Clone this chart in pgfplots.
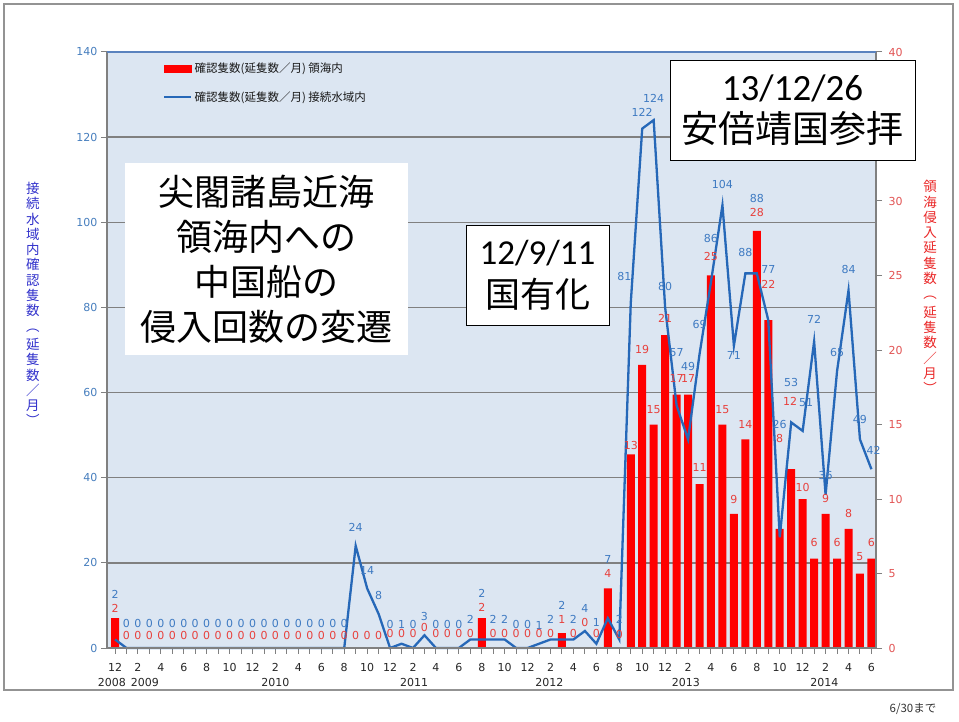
\documentclass[border=0pt]{standalone}
\usepackage{fontspec}
\setmainfont{Noto Sans CJK JP}
\newfontfamily\numfont{DejaVu Sans}
\newfontfamily\calfont{Carlito}
\usepackage{pgfplots}
\usepackage{pgfplotstable}
\pgfplotsset{compat=1.18}
\definecolor{bgblue}{RGB}{220,230,242}
\definecolor{lineblue}{RGB}{38,104,184}
\definecolor{lblblue}{RGB}{62,122,194}
\definecolor{lblred}{RGB}{232,64,60}
\definecolor{tickblue}{RGB}{70,126,190}
\definecolor{tickred}{RGB}{226,84,84}
\definecolor{gridgray}{RGB}{128,128,128}
\definecolor{topblue}{RGB}{90,130,190}
\definecolor{axlabblue}{RGB}{51,51,204}
\definecolor{axlabred}{RGB}{234,40,40}

\pgfplotstableread{
i red blue
0 2 2
1 0 0
2 0 0
3 0 0
4 0 0
5 0 0
6 0 0
7 0 0
8 0 0
9 0 0
10 0 0
11 0 0
12 0 0
13 0 0
14 0 0
15 0 0
16 0 0
17 0 0
18 0 0
19 0 0
20 0 0
21 0 24
22 0 14
23 0 8
24 0 0
25 0 1
26 0 0
27 0 3
28 0 0
29 0 0
30 0 0
31 0 2
32 2 2
33 0 2
34 0 2
35 0 0
36 0 0
37 0 1
38 0 2
39 1 2
40 0 2
41 0 4
42 0 1
43 4 7
44 0 2
45 13 81
46 19 122
47 15 124
48 21 80
49 17 57
50 17 49
51 11 69
52 25 86
53 15 104
54 9 71
55 14 88
56 28 88
57 22 77
58 8 26
59 12 53
60 10 51
61 6 72
62 9 36
63 6 65
64 8 84
65 5 49
66 6 42
}\maindata

\pgfplotstableread{
x y v
0 12.7 2
1 5.8 0
2 5.8 0
3 5.8 0
4 5.8 0
5 5.8 0
6 5.8 0
7 5.8 0
8 5.8 0
9 5.8 0
10 5.8 0
11 5.8 0
12 5.8 0
13 5.8 0
14 5.8 0
15 5.8 0
16 5.8 0
17 5.8 0
18 5.8 0
19 5.8 0
20 5.8 0
21 28.4 24
22 18.1 14
23 12.4 8
24 5.6 0
25 5.6 1
26 5.6 0
27 7.3 3
28 5.6 0
29 5.6 0
30 5.6 0
31 6.6 2
32 12.9 2
33 6.6 2
34 6.6 2
35 5.6 0
36 5.6 0
37 5.4 1
38 6.6 2
39 9.9 2
40 6.6 2
41 9.2 4
42 5.9 1
43 20.7 7
44 6.6 2
44.45 87.2 81
46 125.9 122
47 129.0 124
48 84.8 80
49 69.3 57
50 66.2 49
51 76.1 69
52 96.1 86
53 108.8 104
54 68.8 71
55 92.8 88
56 105.7 88
57 88.8 77
58 52.6 26
59 62.3 53
60.3 57.6 51
61 77.1 72
62 40.6 36
63 69.5 65
64 88.8 84
65 53.6 49
66.2 46.5 42
}\bluelab

\pgfplotstableread{
x y v
0 9.4 2
1 3.0 0
2 3.0 0
3 3.0 0
4 3.0 0
5 3.0 0
6 3.0 0
7 3.0 0
8 3.0 0
9 3.0 0
10 3.0 0
11 3.0 0
12 3.0 0
13 3.0 0
14 3.0 0
15 3.0 0
16 3.0 0
17 3.0 0
18 3.0 0
19 3.0 0
20 3.0 0
21 3.0 0
22 3.0 0
23 3.0 0
24 3.3 0
25 3.3 0
26 3.3 0
27 4.7 0
28 3.3 0
29 3.3 0
30 3.3 0
31 3.3 0
32 9.6 2
33 3.3 0
34 3.3 0
35 3.3 0
36 3.3 0
37 3.3 0
38 3.3 0
39 6.6 1
40 3.3 0
41 5.9 0
42 3.3 0
43 17.6 4
44 3.1 0
45 47.5 13
46 70.2 19
47 56.1 15
48 77.5 21
49 63.2 17
50 63.2 17
51 42.3 11
52 91.9 25
53 56.1 15
54 35.0 9
55 52.6 14
56 102.2 28
57 85.5 22
58 49.3 8
58.9 58.0 12
60 37.8 10
61 24.7 6
62 35.2 9
63 24.7 6
64 31.7 8
65 21.4 5
66 24.7 6
}\redlab

\tikzset{numlab/.style={font=\numfont\fontsize{11}{12}\selectfont}}
\pgfplotsset{
  base/.style={scale only axis, width=769pt, height=596pt,
    xmin=-0.7, xmax=66.4, at={(107pt,73pt)}, anchor=south west},
}

\begin{document}
\begin{tikzpicture}
\useasboundingbox (0,0) rectangle (959pt,721pt);
\fill[white] (0,0) rectangle (959pt,721pt);
\draw[gray!85, line width=2pt] (4pt,717pt) rectangle (953pt,31pt);

% background, grid, left axis, x axis
\begin{axis}[base,
  ymin=0, ymax=140, ytick={0,20,...,140},
  ymajorgrids, grid style={gridgray, line width=1.4pt},
  axis background/.style={fill=bgblue},
  axis line style={draw=none},
  xtick={0,2,...,66},
  xticklabels={12,2,4,6,8,10,12,2,4,6,8,10,12,2,4,6,8,10,12,2,4,6,8,10,12,2,4,6,8,10,12,2,4,6},
  minor xtick={1,3,...,65},
  xtick pos=bottom, ytick pos=left, tick align=outside,
  major tick length=6pt, minor tick length=6pt,
  tick style={gridgray, line width=1pt},
  /pgf/number format/assume math mode=true,
  yticklabel style={numlab, text=tickblue},
  xticklabel style={numlab, text=black!85, yshift=-6pt},
  clip=false]
\node[numlab, text=black!85] at (axis cs:-0.28,0) [yshift=-34pt] {2008};
\node[numlab, text=black!85] at (axis cs:2.6,0) [yshift=-34pt] {2009};
\node[numlab, text=black!85] at (axis cs:14,0) [yshift=-34pt] {2010};
\node[numlab, text=black!85] at (axis cs:26.1,0) [yshift=-34pt] {2011};
\node[numlab, text=black!85] at (axis cs:37.9,0) [yshift=-34pt] {2012};
\node[numlab, text=black!85] at (axis cs:49.8,0) [yshift=-34pt] {2013};
\node[numlab, text=black!85] at (axis cs:61.9,0) [yshift=-34pt] {2014};
\end{axis}

% bars on right axis
\begin{axis}[base,
  ymin=0, ymax=40, ytick={0,5,...,40},
  axis y line*=right, hide x axis,
  axis line style={draw=none},
  tick align=outside, major tick length=6pt,
  tick style={gridgray, line width=1pt},
  /pgf/number format/assume math mode=true,
  yticklabel style={numlab, text=tickred, xshift=3pt},
  ybar, bar width=8pt]
\addplot[fill=red, draw=none] table[x=i, y=red] {\maindata};
\end{axis}

% line, labels, legend
\begin{axis}[base, ymin=0, ymax=140, hide axis, clip=false,
  legend style={at={(rel axis cs:0.073,0.985)}, anchor=north west,
    draw=none, fill=none, font=\fontsize{11.5}{13}\selectfont,
    text=black!90, row sep=13pt, inner sep=0pt,
    /tikz/every even column/.append style={column sep=2pt}},
  legend cell align=left]
\addlegendimage{legend image code/.code={\fill[red] (0pt,-3.5pt) rectangle (27pt,3.5pt);}}
\addlegendentry{確認隻数(延隻数／月) 領海内}
\addplot[lineblue, line width=2.3pt, mark=none,
  legend image code/.code={\draw[lineblue, line width=2.3pt] (0pt,0pt) -- (27pt,0pt);}]
  table[x=i, y=blue] {\maindata};
\addlegendentry{確認隻数(延隻数／月) 接続水域内}
\addplot[forget plot, draw=none, mark=none, nodes near coords,
  point meta=explicit symbolic, nodes near coords align={center},
  every node near coord/.append style={font=\numfont\fontsize{11}{12}\selectfont, text=lblblue, inner sep=0pt}]
  table[x=x, y=y, meta=v] {\bluelab};
\addplot[forget plot, draw=none, mark=none, nodes near coords,
  point meta=explicit symbolic, nodes near coords align={center},
  every node near coord/.append style={font=\numfont\fontsize{11}{12}\selectfont, text=lblred, inner sep=0pt}]
  table[x=x, y=y, meta=v] {\redlab};
\draw[gridgray, line width=1.4pt] (rel axis cs:0,0) -- (rel axis cs:0,1);
\draw[gridgray, line width=1.4pt] (rel axis cs:1,0) -- (rel axis cs:1,1);
\draw[gridgray, line width=1.4pt] (rel axis cs:0,0) -- (rel axis cs:1,0);
\draw[topblue, line width=1.6pt] (rel axis cs:0,1) -- (rel axis cs:1,1);
\end{axis}

% axis titles (vertical)
\node[text=axlabblue, align=center, inner sep=0pt, font=\fontsize{13.5}{15.3}\selectfont] at (33pt,417pt)
  {接\\続\\水\\域\\内\\確\\認\\隻\\数\\︵\\[3pt]延\\隻\\数\\／\\月\\︶};
\node[text=axlabred, align=center, inner sep=0pt, font=\fontsize{13.5}{15.3}\selectfont] at (930pt,434pt)
  {領\\海\\侵\\入\\延\\隻\\数\\︵\\[3pt]延\\隻\\数\\／\\月\\︶};

% annotation boxes
\node[fill=white, minimum width=283pt, minimum height=192pt, inner sep=0pt, align=center,
  font=\fontsize{36}{45}\selectfont] at (266.5pt,462pt)
  {尖閣諸島近海\\領海内への\\中国船の\\侵入回数の変遷};
\node[fill=white, draw=black, line width=0.8pt, minimum width=143pt, minimum height=100pt,
  inner sep=0pt, align=center, font=\fontsize{35}{43}\selectfont] at (537.5pt,446pt)
  {{\calfont 12/9/11}\\国有化};
\node[fill=white, draw=black, line width=0.8pt, minimum width=245pt, minimum height=100pt,
  inner sep=0pt, align=center, font=\fontsize{37}{42}\selectfont] at (792.5pt,611pt)
  {{\calfont 13/12/26}\\安倍靖国参拝};
\node[font=\fontsize{11.5}{13}\selectfont, text=black!80] at (913pt,12pt) {6/30まで};
\end{tikzpicture}
\end{document}
